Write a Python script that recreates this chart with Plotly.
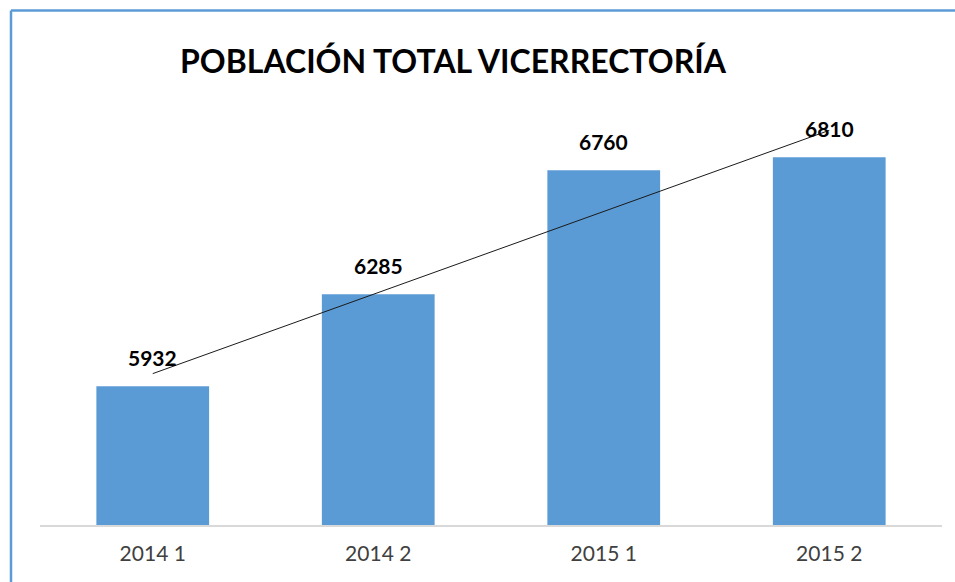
import numpy as np
import plotly.graph_objects as go

# datos del grafico
periodos = ['2014 1', '2014 2', '2015 1', '2015 2']
poblacion = [5932, 6285, 6760, 6810]

W, H = 955, 582

# linea de tendencia lineal (como la de Excel)
idx = np.arange(1, len(poblacion) + 1)
pend, inter = np.polyfit(idx, poblacion, 1)
tendencia = pend * idx + inter

fig = go.Figure()
fig.add_trace(go.Bar(x=periodos, y=poblacion, width=0.5,
                     marker=dict(color='#5b9bd5', line=dict(width=0)),
                     hoverinfo='x+y'))
fig.add_trace(go.Scatter(x=periodos, y=tendencia, mode='lines',
                         line=dict(color='#1a1a1a', width=1), hoverinfo='skip'))

# etiquetas de datos
for p, v in zip(periodos, poblacion):
    fig.add_annotation(x=p, y=v, text='<b>%d</b>' % v, showarrow=False,
                       yanchor='bottom', yshift=14,
                       font=dict(family='Lato', size=21, color='black'))

# borde azul (solo arriba e izquierda quedan dentro de la imagen)
borde = dict(color='#5b9bd5', width=2.5)
fig.add_shape(type='line', xref='paper', yref='paper',
              x0=11 / W, x1=1.02, y0=1 - 10.5 / H, y1=1 - 10.5 / H, line=borde)
fig.add_shape(type='line', xref='paper', yref='paper',
              x0=11 / W, x1=11 / W, y0=-0.02, y1=1 - 10.5 / H, line=borde)

fig.update_layout(
    width=W, height=H,
    margin=dict(l=0, r=0, t=0, b=0),
    paper_bgcolor='white', plot_bgcolor='white',
    showlegend=False, bargap=0.5,
    title=dict(text='<b>POBLACIÓN TOTAL VICERRECTORÍA</b>', x=453 / W, xanchor='center',
               y=1 - 62 / H, yanchor='middle',
               font=dict(family='Lato', size=32, color='black')),
    xaxis=dict(domain=[40 / W, 942 / W], showline=True, linecolor='#d9d9d9', linewidth=2,
               ticks='', ticklabelstandoff=9,
               tickfont=dict(family='Lato', size=21, color='#404040'),
               showgrid=False),
    yaxis=dict(domain=[1 - 525 / H, 1 - 107.7 / H], range=[5400, 7000], visible=False,
               showgrid=False, zeroline=False),
)

# quitar el margen del body para que la figura ocupe toda la ventana
fig.write_html('out.html', config={'displayModeBar': False},
               post_script="document.body.style.margin='0';document.body.style.overflow='hidden';")
